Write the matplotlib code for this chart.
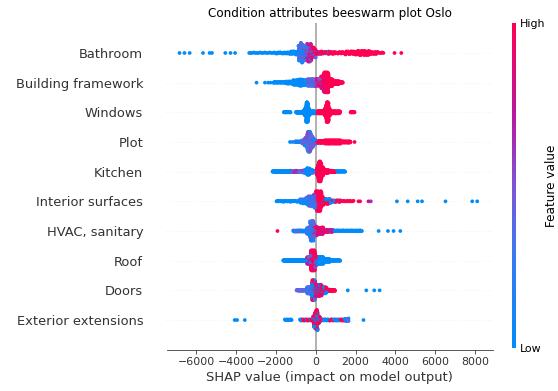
import numpy as np
import matplotlib
matplotlib.use("Agg")
import matplotlib.pyplot as plt
from matplotlib.colors import LinearSegmentedColormap, Normalize
from matplotlib.cm import ScalarMappable

# ---------------- data ----------------
feature_names = ["Bathroom", "Building framework", "Windows", "Plot", "Kitchen",
                 "Interior surfaces", "HVAC, sanitary", "Roof", "Doors",
                 "Exterior extensions"]

# Each feature: segments of SHAP values (lo, hi, number of points, feature-value colours)
bathroom = [
    (-6840, -6840, 1, (0,)), (-6590, -6590, 1, (0,)), (-6330, -6330, 1, (0,)),
    (-5660, -5660, 1, (0,)), (-5330, -5330, 1, (0,)), (-5210, -5210, 1, (0,)),
    (-4540, -4540, 1, (0,)), (-4280, -4280, 1, (0,)), (-4050, -4050, 1, (0,)),
    (-3340, -2000, 18, (0,)),
    (-2000, -1300, 19, (0,)),
    (-1300, -1000, 17, (0, 0, 0.2)),
    (-1000, -850, 10, (0, 0.3)),
    (-850, -600, 90, (0, 0.2, 0.4, 0.1, 0.5)),
    (-600, -450, 30, (0.4, 0.6, 0.2)),
    (-450, -200, 81, (0.5, 0.7, 0.8, 0.4, 0.9)),
    (-200, 0, 36, (0.6, 0.8, 1.0, 0.4)),
    (0, 300, 15, (1.0, 0.8)),
    (300, 1500, 40, (1.0,)),
    (500, 800, 5, (0,)),
    (1500, 2100, 35, (1.0,)),
    (2100, 2700, 50, (1.0,)),
    (2700, 3100, 18, (1.0,)),
    (3100, 3400, 6, (1.0,)),
    (3960, 3960, 1, (1.0,)), (4300, 4300, 1, (1.0,)),
]
building_framework = [
    (-2970, -2970, 1, (0,)), (-2550, -2550, 1, (0,)), (-2390, -2390, 1, (0,)),
    (-2270, -2270, 1, (0,)),
    (-2130, -1500, 30, (0,)),
    (-1500, -1125, 40, (0,)),
    (-1125, -850, 60, (0,)),
    (-850, -650, 60, (0, 0, 0.2)),
    (-650, -450, 45, (0.1, 0.3, 0)),
    (-450, 0, 140, (0.3, 0.5, 0.15, 0.6, 0.4)),
    (0, 250, 80, (0.7, 1.0, 0.5)),
    (250, 400, 85, (1.0, 1.0, 0.8)),
    (400, 650, 231, (1.0,)),
    (650, 850, 70, (1.0,)),
    (850, 1150, 50, (1.0,)),
    (1150, 1360, 16, (1.0,)),
]
windows = [
    (-1600, -1260, 18, (0,)),
    (-990, -620, 32, (0,)),
    (-620, -560, 12, (0,)),
    (-560, -480, 36, (0,)),
    (-480, -380, 113, (0,)),
    (-380, -300, 32, (0,)),
    (-300, -30, 38, (0,)),
    (50, 450, 60, (1.0,)),
    (450, 530, 36, (1.0,)),
    (530, 650, 135, (1.0,)),
    (650, 730, 32, (1.0,)),
    (730, 1230, 68, (1.0,)),
    (1750, 1950, 11, (1.0,)),
]
plot_ = [
    (-1290, -1290, 1, (0,)), (-1160, -1160, 1, (0,)),
    (-1040, -700, 20, (0, 0.4)),
    (-700, -550, 32, (0.4, 0.2, 0.5)),
    (-550, -420, 68, (0.4, 0.1, 0.55, 0.3)),
    (-420, -250, 210, (0.4, 0.1, 0.55, 0.35, 0.25)),
    (-250, -130, 80, (0.4, 0.2, 0.5)),
    (-130, 0, 36, (0.4, 0, 0.5)),
    (0, 150, 16, (0, 1.0)),
    (150, 450, 40, (1.0,)),
    (450, 1250, 165, (1.0,)),
    (1250, 1750, 45, (1.0,)),
    (1950, 1950, 1, (1.0,)),
]
kitchen = [
    (-2170, -1290, 58, (0,)),
    (-1290, -620, 58, (0.55, 0.45, 0.65, 0.3)),
    (-620, -450, 28, (0, 0, 0.3)),
    (-450, -300, 55, (0,)),
    (-300, -100, 32, (0, 0, 0.3)),
    (-30, 50, 8, (0.5, 1.0)),
    (50, 130, 36, (1.0,)),
    (130, 280, 164, (1.0,)),
    (280, 390, 55, (1.0,)),
    (390, 650, 45, (1.0,)),
    (650, 970, 28, (1.0,)),
    (970, 1480, 26, (0,)),
]
interior_surfaces = [
    (-1970, -790, 28, (0,)),
    (-790, -450, 30, (0, 0.2)),
    (-450, -120, 66, (0.3, 0, 0.5, 0.1)),
    (-120, 0, 33, (0.4, 0.6, 0.2)),
    (0, 320, 127, (1.0,)),
    (320, 720, 45, (1.0, 1.0, 0)),
    (720, 1230, 22, (1.0, 0)),
    (1230, 1900, 12, (1.0,)),
    (2150, 2150, 1, (1.0,)), (2230, 2230, 1, (1.0,)),
    (2650, 2650, 1, (0.8,)), (2770, 2770, 1, (0.6,)),
    (4080, 4080, 1, (0,)), (4620, 4620, 1, (0,)), (5120, 5120, 1, (0,)),
    (5340, 5340, 1, (0,)), (6520, 6520, 1, (0,)), (7860, 7860, 1, (0,)),
    (8110, 8110, 1, (0,)),
]
hvac_sanitary = [
    (-1920, -1920, 1, (1.0,)),
    (-1130, -450, 35, (0, 0.4)),
    (-450, -285, 38, (0, 0.4, 0.2)),
    (-285, -85, 130, (0, 0.4, 0.3, 0.5)),
    (-85, 50, 45, (0.4, 1.0, 0.2)),
    (50, 390, 75, (1.0, 0.8)),
    (390, 890, 38, (1.0, 0.7)),
    (890, 2320, 45, (0,)),
    (3160, 3160, 1, (0,)), (3630, 3630, 1, (0,)), (3910, 3910, 1, (0,)),
    (4250, 4250, 1, (0,)),
]
roof = [
    (-1630, -450, 100, (0,)),
    (-450, -250, 95, (1.0, 0.7, 0.4)),
    (-250, -30, 308, (1.0, 0.9)),
    (-30, 80, 65, (1.0, 0, 0.5)),
    (80, 390, 150, (0,)),
    (390, 720, 70, (0,)),
    (720, 1230, 32, (0,)),
]
doors = [
    (-960, -450, 32, (0.4,)),
    (-450, -200, 80, (0, 0.4)),
    (-200, -30, 163, (0, 0.4, 1.0)),
    (-30, 300, 180, (1.0, 0.8, 0)),
    (300, 550, 75, (1.0, 1.0, 0)),
    (550, 970, 32, (1.0,)),
    (1610, 1610, 1, (0,)), (2540, 2540, 1, (0,)), (2940, 2940, 1, (0,)),
    (3210, 3210, 1, (0,)),
]
exterior_extensions = [
    (-4070, -4070, 1, (0,)), (-3950, -3950, 1, (0,)), (-3560, -3560, 1, (0,)),
    (-1550, -1210, 11, (0,)),
    (-790, -120, 28, (0, 1.0)),
    (-120, 0, 50, (1.0, 0)),
    (0, 100, 62, (1.0, 0, 1.0)),
    (100, 220, 25, (0, 1.0)),
    (220, 1650, 58, (0, 0, 1.0)),
    (1450, 1650, 8, (0.4,)),
    (2400, 2400, 1, (0,)),
]
feature_segments = [bathroom, building_framework, windows, plot_, kitchen,
                     interior_surfaces, hvac_sanitary, roof, doors,
                     exterior_extensions]

x_ticks = [-6000, -4000, -2000, 0, 2000, 4000, 6000, 8000]
title = "Condition attributes beeswarm plot Oslo"

# ---------------- styling ----------------
cmap = LinearSegmentedColormap.from_list(
    "shap_red_blue",
    [(0.0, "#008bfb"), (0.3, "#3f78ee"), (0.5, "#7d55d4"),
     (0.72, "#b8189f"), (1.0, "#ff0052")])
axis_color = "#333333"

W, H, DPI = 558, 391, 72
fig = plt.figure(figsize=(W / DPI, H / DPI), dpi=DPI)
ax = fig.add_axes([166.7 / W, 1 - 349.7 / H, (493 - 166.7) / W, (349.7 - 23.3) / H])

n = len(feature_names)
golden = 0.6180339887

for row, segs in enumerate(feature_segments):
    pos = n - 1 - row
    vals, cols = [], []
    for lo, hi, cnt, cset in segs:
        xs = np.linspace(lo, hi, cnt) if cnt > 1 else np.array([lo], float)
        vals.extend(xs)
        cols.extend([cset[i % len(cset)] for i in range(cnt)])
    vals = np.asarray(vals, float)
    cols = np.asarray(cols, float)
    N = len(vals)
    mix = (np.arange(N) * golden) % 1.0
    # shap-style beeswarm layout
    nbins = 100
    quant = np.round(nbins * (vals - vals.min()) / (vals.max() - vals.min() + 1e-8))
    inds = np.argsort(quant + mix * 1e-3, kind="stable")
    layer, last_bin = 0, -1
    ys = np.zeros(N)
    for ind in inds:
        if quant[ind] != last_bin:
            layer = 0
        ys[ind] = np.ceil(layer / 2) * ((layer % 2) * 2 - 1)
        layer += 1
        last_bin = quant[ind]
    ys *= 0.9 * (0.4 / np.max(ys + 1))
    order = np.argsort(mix, kind="stable")
    ax.axhline(y=pos, color="#cccccc", lw=0.5, dashes=(1, 5), zorder=-1)
    ax.scatter(vals[order], pos + ys[order], c=cols[order], cmap=cmap,
               vmin=0, vmax=1, s=14, linewidth=0, alpha=1, zorder=3,
               rasterized=True)

ax.axvline(x=0, color="#999999", zorder=-1)
ax.set_xlim(-7484, 8905)
ax.set_ylim(-1, n)
ax.set_yticks(range(n))
ax.set_yticklabels(feature_names[::-1], fontsize=13)
ax.set_xticks(x_ticks)
ax.xaxis.set_ticks_position("bottom")
ax.yaxis.set_ticks_position("none")
ax.spines["right"].set_visible(False)
ax.spines["top"].set_visible(False)
ax.spines["left"].set_visible(False)
ax.spines["bottom"].set_color(axis_color)
ax.tick_params(color=axis_color, labelcolor=axis_color)
ax.tick_params("y", length=20, width=0.5, which="major")
ax.tick_params("x", labelsize=11)
ax.set_xlabel("SHAP value (impact on model output)", fontsize=13, color=axis_color)
ax.set_title(title, fontsize=12)

cax = fig.add_axes([512 / W, 1 - 348 / H, 4 / W, 325 / H])
sm = ScalarMappable(norm=Normalize(0, 1), cmap=cmap)
cb = fig.colorbar(sm, cax=cax, ticks=[0, 1])
cb.set_ticklabels(["Low", "High"])
cb.set_label("Feature value", size=12, labelpad=0)
cb.ax.tick_params(labelsize=11, length=0)
cb.outline.set_visible(False)

fig.savefig("out.png", dpi=DPI)
